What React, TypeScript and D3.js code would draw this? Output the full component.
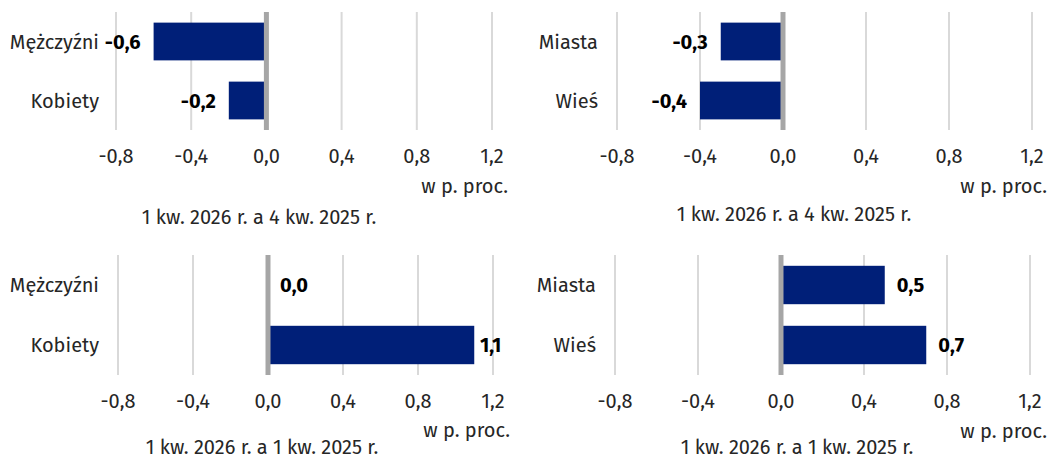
import * as d3 from 'd3';
import { useEffect, useRef } from 'react';

// kategorie
const genderCats = ['Mężczyźni', 'Kobiety'];
const placeCats = ['Miasta', 'Wieś'];

// zmiany w p. proc.
const genderQoQ = [-0.6, -0.2];
const placeQoQ = [-0.3, -0.4];
const genderYoY = [0.0, 1.1];
const placeYoY = [0.5, 0.7];

const ticks = [-0.8, -0.4, 0, 0.4, 0.8, 1.2];
const unitLabel = 'w p. proc.';
const subtitles = ['1 kw. 2026 r. a 4 kw. 2025 r.', '1 kw. 2026 r. a 1 kw. 2025 r.'];

const FONT = '"Fira Sans", "Open Sans", sans-serif';
const FS = 20;
const BAR = '#001f78';
const TEXT = '#262626';

type Layout = {
    left: number;
    right: number;
    top: number;
    bottom: number;
    catX: number;
    tickY: number;
    unitX: number;
    unitY: number;
    subX: number;
    subY: number;
};

// rozmieszczenie czterech paneli
const layouts: Layout[] = [
    { left: 116, right: 492, top: 12, bottom: 130, catX: 99, tickY: 163, unitX: 508, unitY: 193, subX: 259, subY: 224 },
    { left: 617, right: 1032, top: 12, bottom: 130, catX: 598, tickY: 163, unitX: 1047, unitY: 193, subX: 794, subY: 221 },
    { left: 118, right: 493, top: 255, bottom: 375, catX: 99, tickY: 408, unitX: 510, unitY: 437, subX: 262, subY: 454 },
    { left: 615, right: 1030, top: 255, bottom: 375, catX: 596, tickY: 408, unitX: 1047, unitY: 438, subX: 797, subY: 454 },
];

const panels = [
    { cats: genderCats, values: genderQoQ, subtitle: subtitles[0] },
    { cats: placeCats, values: placeQoQ, subtitle: subtitles[0] },
    { cats: genderCats, values: genderYoY, subtitle: subtitles[1] },
    { cats: placeCats, values: placeYoY, subtitle: subtitles[1] },
];

const fmt = (v: number) => d3.format('.1f')(v).replace('.', ',').replace('−', '-');

export default function App() {
    const ref = useRef<SVGSVGElement | null>(null);

    useEffect(() => {
        if (!ref.current) return;
        const svg = d3.select(ref.current);
        svg.selectAll('*').remove();

        panels.forEach((p, i) => {
            const L = layouts[i];
            const g = svg.append('g').style('font-family', FONT);

            const x = d3.scaleLinear().domain([-0.8, 1.2]).range([L.left, L.right]);
            const y = d3.scaleBand().domain(p.cats).range([L.top, L.bottom]).paddingInner(0.36).paddingOuter(0.18);

            // linie siatki
            g.append('g')
                .selectAll('line')
                .data(ticks.filter((t) => t !== 0))
                .join('line')
                .attr('x1', (d) => x(d))
                .attr('x2', (d) => x(d))
                .attr('y1', L.top)
                .attr('y2', L.bottom)
                .attr('stroke', '#d9d9d9')
                .attr('stroke-width', 2);

            // słupki
            g.append('g')
                .selectAll('rect')
                .data(p.values)
                .join('rect')
                .attr('x', (d) => Math.min(x(0), x(d)))
                .attr('y', (_, j) => y(p.cats[j])!)
                .attr('width', (d) => Math.abs(x(d) - x(0)))
                .attr('height', y.bandwidth())
                .attr('fill', BAR);

            // oś zero
            g.append('line')
                .attr('x1', x(0))
                .attr('x2', x(0))
                .attr('y1', L.top)
                .attr('y2', L.bottom)
                .attr('stroke', '#a6a6a6')
                .attr('stroke-width', 5);

            // etykiety wartości
            g.append('g')
                .selectAll('text')
                .data(p.values)
                .join('text')
                .attr('x', (d) => (d < 0 ? x(d) - 13 : Math.min(x(d) + 12, L.right - 13)))
                .attr('y', (_, j) => y(p.cats[j])! + y.bandwidth() / 2)
                .attr('dy', '0.35em')
                .attr('text-anchor', (d) => (d < 0 ? 'end' : 'start'))
                .attr('font-weight', 700)
                .attr('font-size', FS)
                .attr('fill', '#000')
                .text((d) => fmt(d));

            // kategorie
            g.append('g')
                .selectAll('text')
                .data(p.cats)
                .join('text')
                .attr('x', L.catX)
                .attr('y', (d) => y(d)! + y.bandwidth() / 2)
                .attr('dy', '0.35em')
                .attr('text-anchor', 'end')
                .attr('font-size', FS)
                .attr('fill', TEXT)
                .text((d) => d);

            // oś X
            g.append('g')
                .selectAll('text')
                .data(ticks)
                .join('text')
                .attr('x', (d) => x(d))
                .attr('y', L.tickY)
                .attr('text-anchor', 'middle')
                .attr('font-size', FS)
                .attr('fill', TEXT)
                .text((d) => fmt(d));

            g.append('text')
                .attr('x', L.unitX)
                .attr('y', L.unitY)
                .attr('text-anchor', 'end')
                .attr('font-size', FS)
                .attr('fill', TEXT)
                .text(unitLabel);

            g.append('text')
                .attr('x', L.subX)
                .attr('y', L.subY)
                .attr('text-anchor', 'middle')
                .attr('font-size', FS)
                .attr('fill', TEXT)
                .text(p.subtitle);
        });
    }, []);

    return (
        <svg
            ref={ref}
            width={1062}
            height={461}
            style={{ position: 'absolute', left: 0, top: 0, background: '#fff' }}
        />
    );
}
